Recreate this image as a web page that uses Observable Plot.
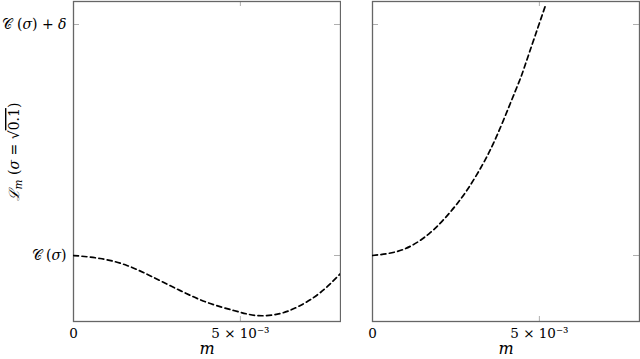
<!DOCTYPE html>
<html>
<head>
<meta charset="utf-8">
<script src="https://cdn.jsdelivr.net/npm/d3@7"></script>
<script src="https://cdn.jsdelivr.net/npm/@observablehq/plot@0.6"></script>
<style>
  html, body { margin: 0; padding: 0; background: white; }
  #wrap { display: flex; flex-direction: row; width: 640px; height: 359px; overflow: hidden; }
  #wrap svg, #wrap svg text { font-family: "DejaVu Serif", serif !important; }
</style>
</head>
<body>
<div id="wrap"></div>
<script>
// ---- data ----
const leftM = [0, 0.0008, 0.0016, 0.0024, 0.0032, 0.0040, 0.0048, 0.0055, 0.0062, 0.0068, 0.0074, 0.0080];
const leftL = [0, -0.013, -0.043, -0.095, -0.152, -0.203, -0.238, -0.260, -0.251, -0.216, -0.160, -0.078];
const rightM = [0, 0.0009, 0.0017, 0.0023, 0.0028, 0.0033, 0.0037, 0.0041, 0.0044, 0.0046, 0.0052];
const rightL = [0, 0.025, 0.095, 0.183, 0.276, 0.394, 0.510, 0.648, 0.755, 0.836, 1.090];
const xTicks = [0, 0.005];
const xTickLabels = ["0", "5 × 10⁻³"];
const yTicks = [0, 1];
const yTickLabels = ["𝒞 (σ)", "𝒞 (σ) + δ"];
const xLabel = "m";

const serif = "DejaVu Serif";

function panel(ms, ls, {width, marginLeft, showY}) {
  const data = ms.map((m, i) => ({m, L: ls[i]}));
  const marks = [
    Plot.tickX(xTicks, {x: d => d, stroke: "#9a9a9a", strokeWidth: 0.8, insetTop: 315}),
    Plot.tickX(xTicks, {x: d => d, stroke: "#9a9a9a", strokeWidth: 0.8, insetBottom: 315}),
    Plot.tickY(yTicks, {y: d => d, stroke: "#9a9a9a", strokeWidth: 0.8, insetRight: 261}),
    Plot.tickY(yTicks, {y: d => d, stroke: "#9a9a9a", strokeWidth: 0.8, insetLeft: 261}),
    Plot.axisX({ticks: xTicks, tickSize: 0, tickPadding: 7, fontSize: 13.5, tickFormat: d => xTickLabels[xTicks.indexOf(d)], label: null}),
    Plot.frame({stroke: "#666", strokeWidth: 1.3}),
    Plot.line(data, {x: "m", y: "L", stroke: "black", strokeWidth: 1.7, strokeDasharray: "5,3.5", curve: "natural", clip: true}),
    Plot.text([xLabel], {frameAnchor: "bottom", dy: 32, fontStyle: "italic", fontSize: 16})
  ];
  if (showY) marks.push(Plot.axisY({ticks: yTicks, tickSize: 0, tickPadding: 7, fontSize: 14, tickFormat: d => yTickLabels[yTicks.indexOf(d)], label: null}));
  return Plot.plot({
    width, height: 359,
    marginTop: 1, marginBottom: 38, marginLeft, marginRight: 1,
    x: {domain: [0, 0.008]},
    y: {domain: [-0.2857, 1.0996], axis: showY ? undefined : null},
    style: {fontFamily: serif, fontSize: "14px", color: "black", background: "white", overflow: "visible"},
    marks
  });
}

const left = panel(leftM, leftL, {width: 341, marginLeft: 73, showY: true});
const right = panel(rightM, rightL, {width: 299, marginLeft: 31, showY: false});
document.getElementById("wrap").append(left, right);

// rich y-axis label
const svg = d3.select(left);
const t = svg.append("text")
  .attr("transform", "translate(19,152) rotate(-90)")
  .attr("text-anchor", "middle")
  .attr("font-size", 14)
  .attr("fill", "black");
t.append("tspan").text("ℒ").attr("font-style", "italic");
t.append("tspan").text("m").attr("font-style", "italic").attr("font-size", 10.5).attr("dy", 3);
t.append("tspan").text(" (").attr("dy", -3);
t.append("tspan").text("σ").attr("font-style", "italic");
t.append("tspan").text(" = √");
t.append("tspan").text("0.1").attr("text-decoration", "overline");
t.append("tspan").text(")");

// italicise Greek in tick labels
svg.selectAll("text").each(function() {
  const s = this.textContent;
  if (s.includes("𝒞")) {
    const sel = d3.select(this);
    sel.text(null);
    for (const ch of Array.from(s)) {
      const sp = sel.append("tspan").text(ch);
      if (ch === "σ" || ch === "δ") sp.attr("font-style", "italic");
    }
  }
});
</script>
</body>
</html>
